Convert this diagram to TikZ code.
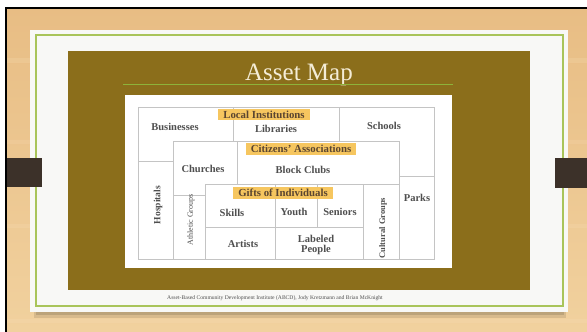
\documentclass[tikz,border=0pt]{standalone}
\usepackage{fontspec}
\setmainfont{Liberation Serif}
\definecolor{woodtop}{HTML}{E8BD84}
\definecolor{woodbot}{HTML}{F1D19E}
\definecolor{woodstreak}{HTML}{F6DDB2}
\definecolor{slide}{HTML}{F8F8F6}
\definecolor{frame}{HTML}{A9C45A}
\definecolor{rule}{HTML}{8DB33A}
\definecolor{tab}{HTML}{3C3129}
\definecolor{olive}{HTML}{8B6E1B}
\definecolor{titlecol}{HTML}{F4ECD6}
\definecolor{gridgray}{HTML}{C4C4C4}
\definecolor{ink}{HTML}{4F4F4F}
\definecolor{tagfill}{HTML}{F6C65F}
\definecolor{tagink}{HTML}{5A4530}
\begin{document}
\begin{tikzpicture}[x=1pt,y=-1pt,
    cell/.style={font=\bfseries\fontsize{10.5}{11}\selectfont, text=ink},
    tag/.style={fill=tagfill, text=tagink, font=\bfseries\fontsize{10.8}{11}\selectfont,
      inner xsep=5pt, inner ysep=2pt},
    side/.style={rotate=90, text=ink, font=\fontsize{8.5}{9}\selectfont},
    gridline/.style={draw=gridgray, line width=0.7pt}]
  \useasboundingbox (0,0) rectangle (587,332);
  \fill[white] (0,0) rectangle (587,332);
  \shade[top color=woodtop, bottom color=woodbot] (5,7) rectangle (587,332);
  \fill[woodstreak, opacity=0.25] (5,58) rectangle (587,63);
  \fill[woodstreak, opacity=0.2] (5,140) rectangle (587,144);
  \fill[woodstreak, opacity=0.25] (5,224) rectangle (587,228);
  \fill[woodstreak, opacity=0.3] (5,319) rectangle (587,323);
  \fill[black] (5,7) rectangle (587,9);
  \fill[black] (5,7) rectangle (7,332);
  % slide
  \fill[black, opacity=0.10] (34,308) rectangle (566,318);
  \fill[black, opacity=0.12] (36,308) rectangle (564,315);
  \fill[slide] (30,30) rectangle (568,312);
  \draw[frame, line width=1.1pt] (36,35) rectangle (563,306);
  \fill[tab] (7,158) rectangle (42,187);
  \fill[tab] (555,158) rectangle (587,188);
  \fill[olive] (68,51) rectangle (530,290);
  \node[anchor=base, text=titlecol, font=\fontsize{25}{28}\selectfont] (title) at (299,80) {Asset Map};
  \draw[rule, line width=0.8pt] (123,84) -- (453,84);
  \node[text=ink, font=\fontsize{5.6}{6}\selectfont] (credit) at (275,298)
    {Asset-Based Community Development Institute (ABCD), Jody Kretzmann and Brian McKnight};
  % asset map
  \fill[white] (125,95) rectangle (452,268);
  \begin{scope}[gridline]
    \draw (138,107) rectangle (434,259);
    \draw (233,107) -- (233,141);
    \draw (339,107) -- (339,141);
    \draw (138,161) -- (173,161);
    \draw (173,141) rectangle (399,259);
    \draw (237,141) -- (237,184);
    \draw (173,195) -- (205,195);
    \draw (205,184) rectangle (363,259);
    \draw (363,184) -- (399,184);
    \draw (275,184) -- (275,259);
    \draw (317,184) -- (317,227);
    \draw (205,227) -- (363,227);
    \draw (399,176) -- (434,176);
  \end{scope}
  \draw
    (175,127) node[cell] (businesses) {Businesses}
    (276,129) node[cell] (libraries) {Libraries}
    (384,126) node[cell] (schools) {Schools}
    (203,169) node[cell] (churches) {Churches}
    (303,170) node[cell] (blockclubs) {Block Clubs}
    (232,213) node[cell] (skills) {Skills}
    (294,212) node[cell] (youth) {Youth}
    (340,212) node[cell] (seniors) {Seniors}
    (243,244) node[cell] (artists) {Artists}
    (316,245) node[cell, align=center, font=\bfseries\fontsize{10.5}{10}\selectfont] (labeled) {Labeled\\People}
    (417,198) node[cell] (parks) {Parks};
  \draw
    (158,205) node[side, font=\bfseries\fontsize{9.5}{10}\selectfont] (hospitals) {Hospitals}
    (191,220) node[side, font=\fontsize{8}{9}\selectfont] (athletic) {Athletic Groups}
    (383,228) node[side, font=\bfseries\fontsize{8.5}{9}\selectfont] (cultural) {Cultural Groups};
  \draw
    (264,114.5) node[tag] (local) {Local Institutions}
    (301,149) node[tag] (citizens) {Citizens' Associations}
    (283,193) node[tag] (gifts) {Gifts of Individuals};
\end{tikzpicture}
\end{document}
